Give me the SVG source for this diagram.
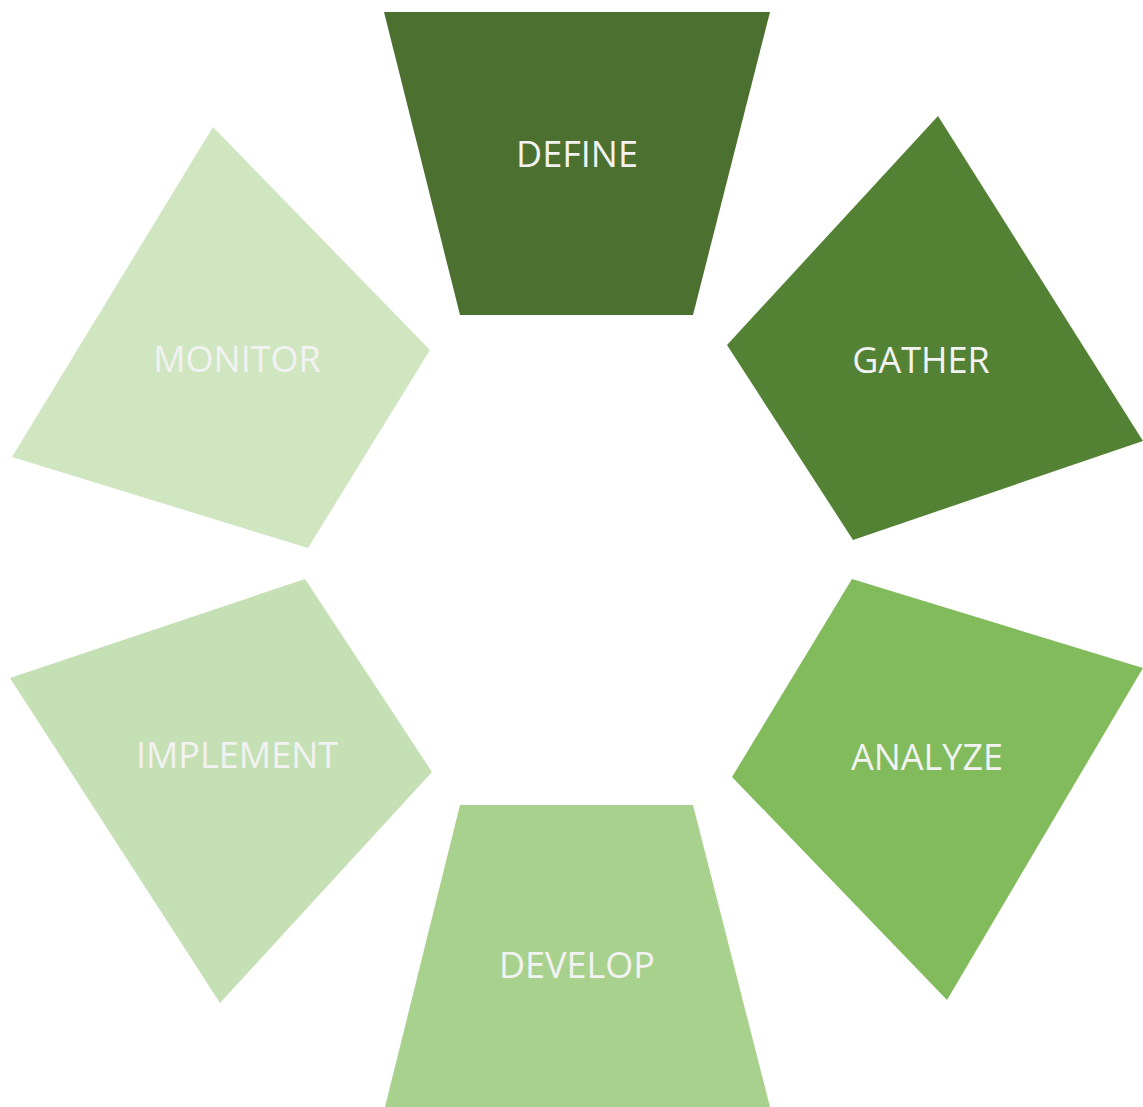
<svg xmlns="http://www.w3.org/2000/svg" width="1143" height="1107" viewBox="0 0 1143 1107">
<style>
.lbl{font-family:"Open Sans","Liberation Sans",sans-serif;font-size:36px;fill:#F2F2F2;text-anchor:middle}
</style>
<rect width="1143" height="1107" fill="#FFFFFF"/>
<g id="define">
<polygon points="384,12 770,12 693,315 460,315" fill="#4B702F"/>
<text class="lbl" x="577" y="167">DEFINE</text>
</g>
<g id="gather">
<polygon points="938,116 1143,441 853,540 727,345" fill="#548235"/>
<text class="lbl" x="921" y="373">GATHER</text>
</g>
<g id="analyze">
<polygon points="852,579 1143,668 947,1000 732,777" fill="#81BB5B"/>
<text class="lbl" x="927" y="770">ANALYZE</text>
</g>
<g id="develop">
<polygon points="460,805 693,805 770,1107 385,1107" fill="#A9D18E"/>
<text class="lbl" x="577" y="978">DEVELOP</text>
</g>
<g id="implement">
<polygon points="305,579 432,772 220,1003 10,678" fill="#C5E0B4"/>
<text class="lbl" x="237" y="768">IMPLEMENT</text>
</g>
<g id="monitor">
<polygon points="213,127 430,350 308,548 12,457" fill="#CFE6C1"/>
<text class="lbl" x="237" y="372">MONITOR</text>
</g>
<g id="connectors"/>
</svg>
